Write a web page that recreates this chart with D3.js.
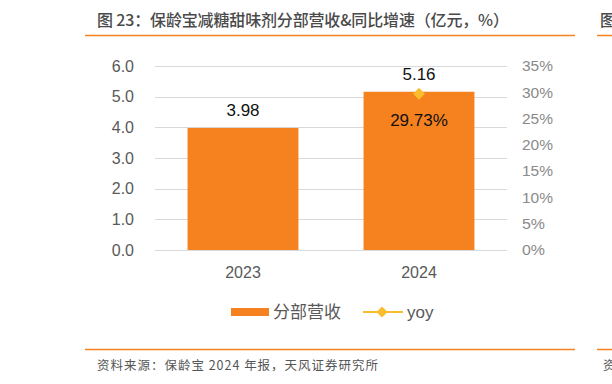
<!DOCTYPE html>
<html><head><meta charset="utf-8">
<script src="https://cdn.jsdelivr.net/npm/d3@7"></script>
<style>body{margin:0;background:#fff;}svg{display:block;}</style>
</head><body>
<script>
const categories = ["2023", "2024"];
const revenue = [3.98, 5.16];
const yoy = [null, 29.73];
const leftTicks = [0, 1, 2, 3, 4, 5, 6];
const rightTicks = [0, 5, 10, 15, 20, 25, 30, 35];
const title = "图 23：保龄宝减糖甜味剂分部营收&同比增速（亿元，%）";
const source = "资料来源：保龄宝 2024 年报，天风证券研究所";
const legendLabels = ["分部营收", "yoy"];

const W = 612, H = 384;
const svg = d3.select("body").append("svg").attr("width", W).attr("height", H);
const cjk = "'Noto Sans CJK SC', 'Noto Sans', sans-serif";
const latin = "'Liberation Sans', Arial, sans-serif";
const orange = "#f5821f", gold = "#fbbd2e";

// Title & decorations
svg.append("text").attr("x", 97).attr("y", 26).attr("font-family", cjk).attr("font-size", 16)
  .attr("font-weight", 500).attr("fill", "#4a4a4a").attr("textLength", 412).attr("lengthAdjust", "spacing").text(title);
svg.append("text").attr("x", 600).attr("y", 26).attr("font-family", cjk).attr("font-size", 16)
  .attr("font-weight", 500).attr("fill", "#4a4a4a").text("图");
[[85, 575], [597, 612]].forEach(([a, b]) => {
  svg.append("line").attr("x1", a).attr("x2", b).attr("y1", 35.5).attr("y2", 35.5).attr("stroke", orange).attr("stroke-width", 1.5);
  svg.append("line").attr("x1", a).attr("x2", b).attr("y1", 349.5).attr("y2", 349.5).attr("stroke", orange).attr("stroke-width", 1.5);
});
svg.append("text").attr("x", 97).attr("y", 370).attr("font-family", cjk).attr("font-size", 12.5)
  .attr("fill", "#555").attr("textLength", 281).attr("lengthAdjust", "spacing").text(source);
svg.append("text").attr("x", 603).attr("y", 370).attr("font-family", cjk).attr("font-size", 12.5)
  .attr("fill", "#555").text("资");

// Scales
const x = d3.scaleBand().domain(categories).range([155, 507]).paddingInner(0.37).paddingOuter(0.185);
const yL = d3.scaleLinear().domain([0, 6]).range([250, 66]);
const yR = d3.scaleLinear().domain([0, 35]).range([250, 66]);

// Grid
svg.append("g").selectAll("line").data(leftTicks).join("line")
  .attr("x1", 155).attr("x2", 507)
  .attr("y1", d => Math.round(yL(d)) + 0.5).attr("y2", d => Math.round(yL(d)) + 0.5)
  .attr("stroke", "#d9d9d9").attr("stroke-width", 1);

// Left axis
const gL = svg.append("g").attr("transform", "translate(140,0)")
  .call(d3.axisLeft(yL).tickValues(leftTicks).tickFormat(d3.format(".1f")).tickSize(0).tickPadding(0));
gL.select(".domain").remove();
gL.selectAll("text").attr("font-family", latin).attr("font-size", 16).attr("fill", "#595959").attr("dx", -6);

// Right axis
const gR = svg.append("g").attr("transform", "translate(522,0)")
  .call(d3.axisRight(yR).tickValues(rightTicks).tickFormat(d => d + "%").tickSize(0).tickPadding(0));
gR.select(".domain").remove();
gR.selectAll("text").attr("font-family", latin).attr("font-size", 15).attr("fill", "#8a8a8a")
  .attr("textLength", d => d < 10 ? 23 : 31).attr("lengthAdjust", "spacingAndGlyphs");

// Bottom axis
const gB = svg.append("g").attr("transform", "translate(0,250)")
  .call(d3.axisBottom(x).tickSize(0).tickPadding(0));
gB.select(".domain").remove();
gB.selectAll("text").attr("font-family", latin).attr("font-size", 16).attr("fill", "#595959").attr("dy", 0).attr("y", 28);

// Bars
svg.append("g").selectAll("rect").data(revenue).join("rect")
  .attr("x", (d, i) => x(categories[i])).attr("width", x.bandwidth())
  .attr("y", d => yL(d)).attr("height", d => yL(0) - yL(d)).attr("fill", orange);

// Bar labels
svg.append("g").selectAll("text").data(revenue).join("text")
  .attr("x", (d, i) => x(categories[i]) + x.bandwidth() / 2).attr("y", d => yL(d) - 12)
  .attr("text-anchor", "middle").attr("font-family", latin).attr("font-size", 17).attr("fill", "#111")
  .text(d => d.toFixed(2));

// yoy line + markers
const pts = yoy.map((v, i) => ({ v, c: categories[i] })).filter(p => p.v !== null);
const line = d3.line().x(p => x(p.c) + x.bandwidth() / 2).y(p => yR(p.v));
svg.append("path").datum(pts).attr("d", line).attr("fill", "none").attr("stroke", gold).attr("stroke-width", 2);
svg.append("g").selectAll("path").data(pts).join("path")
  .attr("d", d3.symbol(d3.symbolDiamond2, 90))
  .attr("transform", p => `translate(${x(p.c) + x.bandwidth() / 2},${yR(p.v)})`).attr("fill", gold);
svg.append("g").selectAll("text").data(pts).join("text")
  .attr("x", p => x(p.c) + x.bandwidth() / 2).attr("y", p => yR(p.v) + 32)
  .attr("text-anchor", "middle").attr("font-family", latin).attr("font-size", 17).attr("fill", "#111")
  .text(p => p.v.toFixed(2) + "%");

// Legend
svg.append("rect").attr("x", 231).attr("y", 308).attr("width", 38).attr("height", 8).attr("fill", orange);
svg.append("text").attr("x", 273).attr("y", 318).attr("font-family", cjk).attr("font-size", 17).attr("fill", "#595959").text(legendLabels[0]);
svg.append("line").attr("x1", 363).attr("x2", 403).attr("y1", 312).attr("y2", 312).attr("stroke", gold).attr("stroke-width", 2);
svg.append("path").attr("d", d3.symbol(d3.symbolDiamond2, 80)).attr("transform", "translate(382,312)").attr("fill", gold);
svg.append("text").attr("x", 407).attr("y", 318).attr("font-family", latin).attr("font-size", 17).attr("fill", "#595959").text(legendLabels[1]);
</script>
</body></html>
